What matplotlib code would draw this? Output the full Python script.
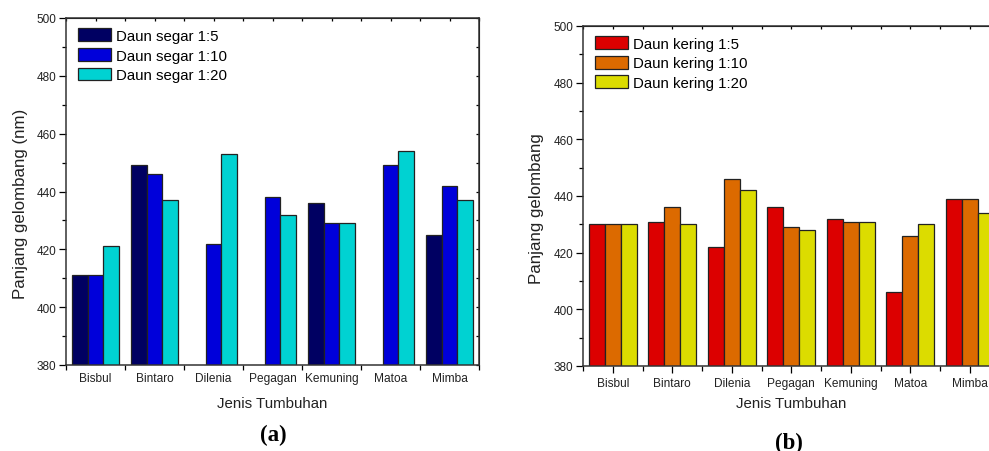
import numpy as np
import matplotlib
matplotlib.use("Agg")
import matplotlib.pyplot as plt
from matplotlib.ticker import MultipleLocator, FixedLocator

plt.rcParams['font.family'] = ['Liberation Sans', 'DejaVu Sans']

categories = ["Bisbul", "Bintaro", "Dilenia", "Pegagan", "Kemuning", "Matoa", "Mimba"]

# (a) daun segar
segar_labels = ["Daun segar 1:5", "Daun segar 1:10", "Daun segar 1:20"]
segar_1_5 = [411, 449, np.nan, np.nan, 436, np.nan, 425]
segar_1_10 = [411, 446, 422, 438, 429, 449, 442]
segar_1_20 = [421, 437, 453, 432, 429, 454, 437]
segar_colors = ["#000062", "#0000da", "#00d2d2"]

# (b) daun kering
kering_labels = ["Daun kering 1:5", "Daun kering 1:10", "Daun kering 1:20"]
kering_1_5 = [430, 431, 422, 436, 432, 406, 439]
kering_1_10 = [430, 436, 446, 429, 431, 426, 439]
kering_1_20 = [430, 430, 442, 428, 431, 430, 434]
kering_colors = ["#dc0000", "#dc6a00", "#dcdc00"]

W, H = 989, 452
fig = plt.figure(figsize=(W / 100, H / 100), dpi=100)


def draw_panel(ax, series, labels, colors, ylabel, center_ticks):
    x = np.arange(len(categories))
    w = 0.8 / 3
    for i, (vals, lab, col) in enumerate(zip(series, labels, colors)):
        ax.bar(x + (i - 1) * w, vals, width=w, color=col, edgecolor="#222222",
               linewidth=0.9, label=lab)
    ax.set_xlim(-0.5, len(categories) - 0.5)
    ax.set_ylim(380, 500)
    ax.yaxis.set_major_locator(MultipleLocator(20))
    ax.yaxis.set_minor_locator(MultipleLocator(10))
    ax.set_xticks(x)
    ax.set_xticklabels(categories, fontsize=8.6, color="#222222")
    ax.xaxis.set_minor_locator(FixedLocator(np.arange(-0.5, len(categories), 1.0)))
    ax.tick_params(axis='y', which='major', direction='out', length=5, width=0.9,
                   labelsize=8.5, labelcolor="#222222", pad=2)
    ax.tick_params(axis='y', which='minor', direction='out', length=3, width=0.9)
    if center_ticks:
        ax.tick_params(axis='x', which='major', direction='out', length=5, width=0.9, pad=3)
    else:
        ax.tick_params(axis='x', which='major', length=0, pad=5)
    ax.tick_params(axis='x', which='minor', direction='out', length=3.5, width=0.9)
    for s in ax.spines.values():
        s.set_linewidth(1.1)
        s.set_color("#333333")

    # small inward ticks on the top and right frame
    top = ax.secondary_xaxis('top')
    top.set_xticks(np.arange(-0.5, len(categories), 0.5))
    top.tick_params(direction='in', length=2, width=0.9, labeltop=False)
    right = ax.secondary_yaxis('right')
    right.set_yticks(np.arange(380, 501, 10))
    right.tick_params(direction='in', length=2, width=0.9, labelright=False)

    ax.set_ylabel(ylabel, fontsize=12.2, color="#222222", va='center')
    ax.yaxis.set_label_coords(-0.111, 0.467)
    ax.set_xlabel("Jenis Tumbuhan", fontsize=10.8, color="#222222", va='center')
    ax.xaxis.set_label_coords(0.5, -0.11)

    ax.legend(loc='upper left', bbox_to_anchor=(0.03, 0.97), frameon=False,
              fontsize=10.8, handlelength=2.15, handleheight=0.95, labelspacing=0.33,
              handletextpad=0.33, borderpad=0, borderaxespad=0)


ax1 = fig.add_axes([66 / W, 1 - 366 / H, 413 / W, 347 / H])
draw_panel(ax1, [segar_1_5, segar_1_10, segar_1_20], segar_labels, segar_colors,
           "Panjang gelombang (nm)", False)

ax2 = fig.add_axes([583 / W, 1 - 367 / H, 416.5 / W, 340 / H])
draw_panel(ax2, [kering_1_5, kering_1_10, kering_1_20], kering_labels, kering_colors,
           "Panjang gelombang", True)

fig.text(273 / W, 1 - 435 / H, "(a)", fontsize=16.5, fontweight='bold',
         family='Liberation Serif', ha='center', va='center')
fig.text(789 / W, 1 - 443 / H, "(b)", fontsize=16.5, fontweight='bold',
         family='Liberation Serif', ha='center', va='center')

fig.savefig("out.png", dpi=100)
